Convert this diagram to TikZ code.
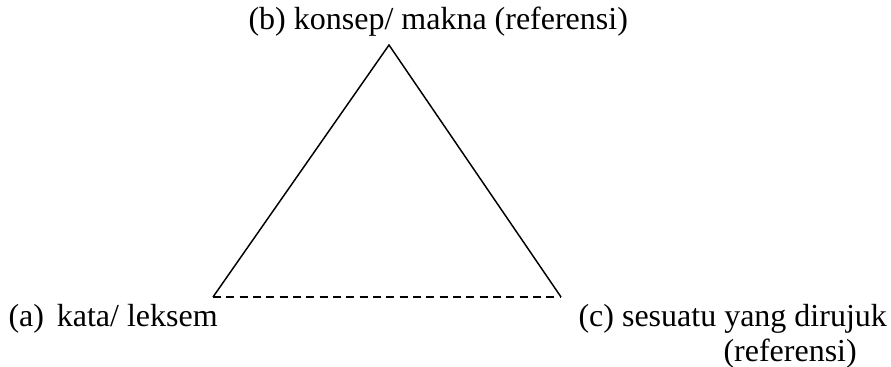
\documentclass[tikz,border=0pt]{standalone}
\usepackage{fontspec}
\setmainfont{Liberation Serif}
\usepackage{tikz}
\usetikzlibrary{positioning}

\tikzset{
    corner/.style={inner sep=0pt},
    lbl/.style={inner sep=0pt, anchor=base west, font=\fontsize{12}{14}\selectfont},
    side/.style={line width=0.55pt},
    base/.style={line width=0.55pt, dash pattern=on 3pt off 2pt}
}

\begin{document}
\begin{tikzpicture}[x=0.375pt, y=-0.375pt]
    \useasboundingbox (0,0) rectangle (891,367);

    \coordinate (b) at (389,45);
    \coordinate (a) at (213,297);
    \coordinate (c) at (561,297);

    \node [lbl] (lb) at (248,30) {(b) konsep/ makna (referensi)};
    \node [lbl] (la) at (8,327) {(a)\hspace{0.4em}kata/ leksem};
    \node [lbl] (lc) at (578,327) {(c) sesuatu yang dirujuk};
    \node [lbl] (lr) at (723,362) {(referensi)};

    \draw [side] (a) -- (b) -- (c);
    \draw [base] (a) -- (c);
\end{tikzpicture}
\end{document}
